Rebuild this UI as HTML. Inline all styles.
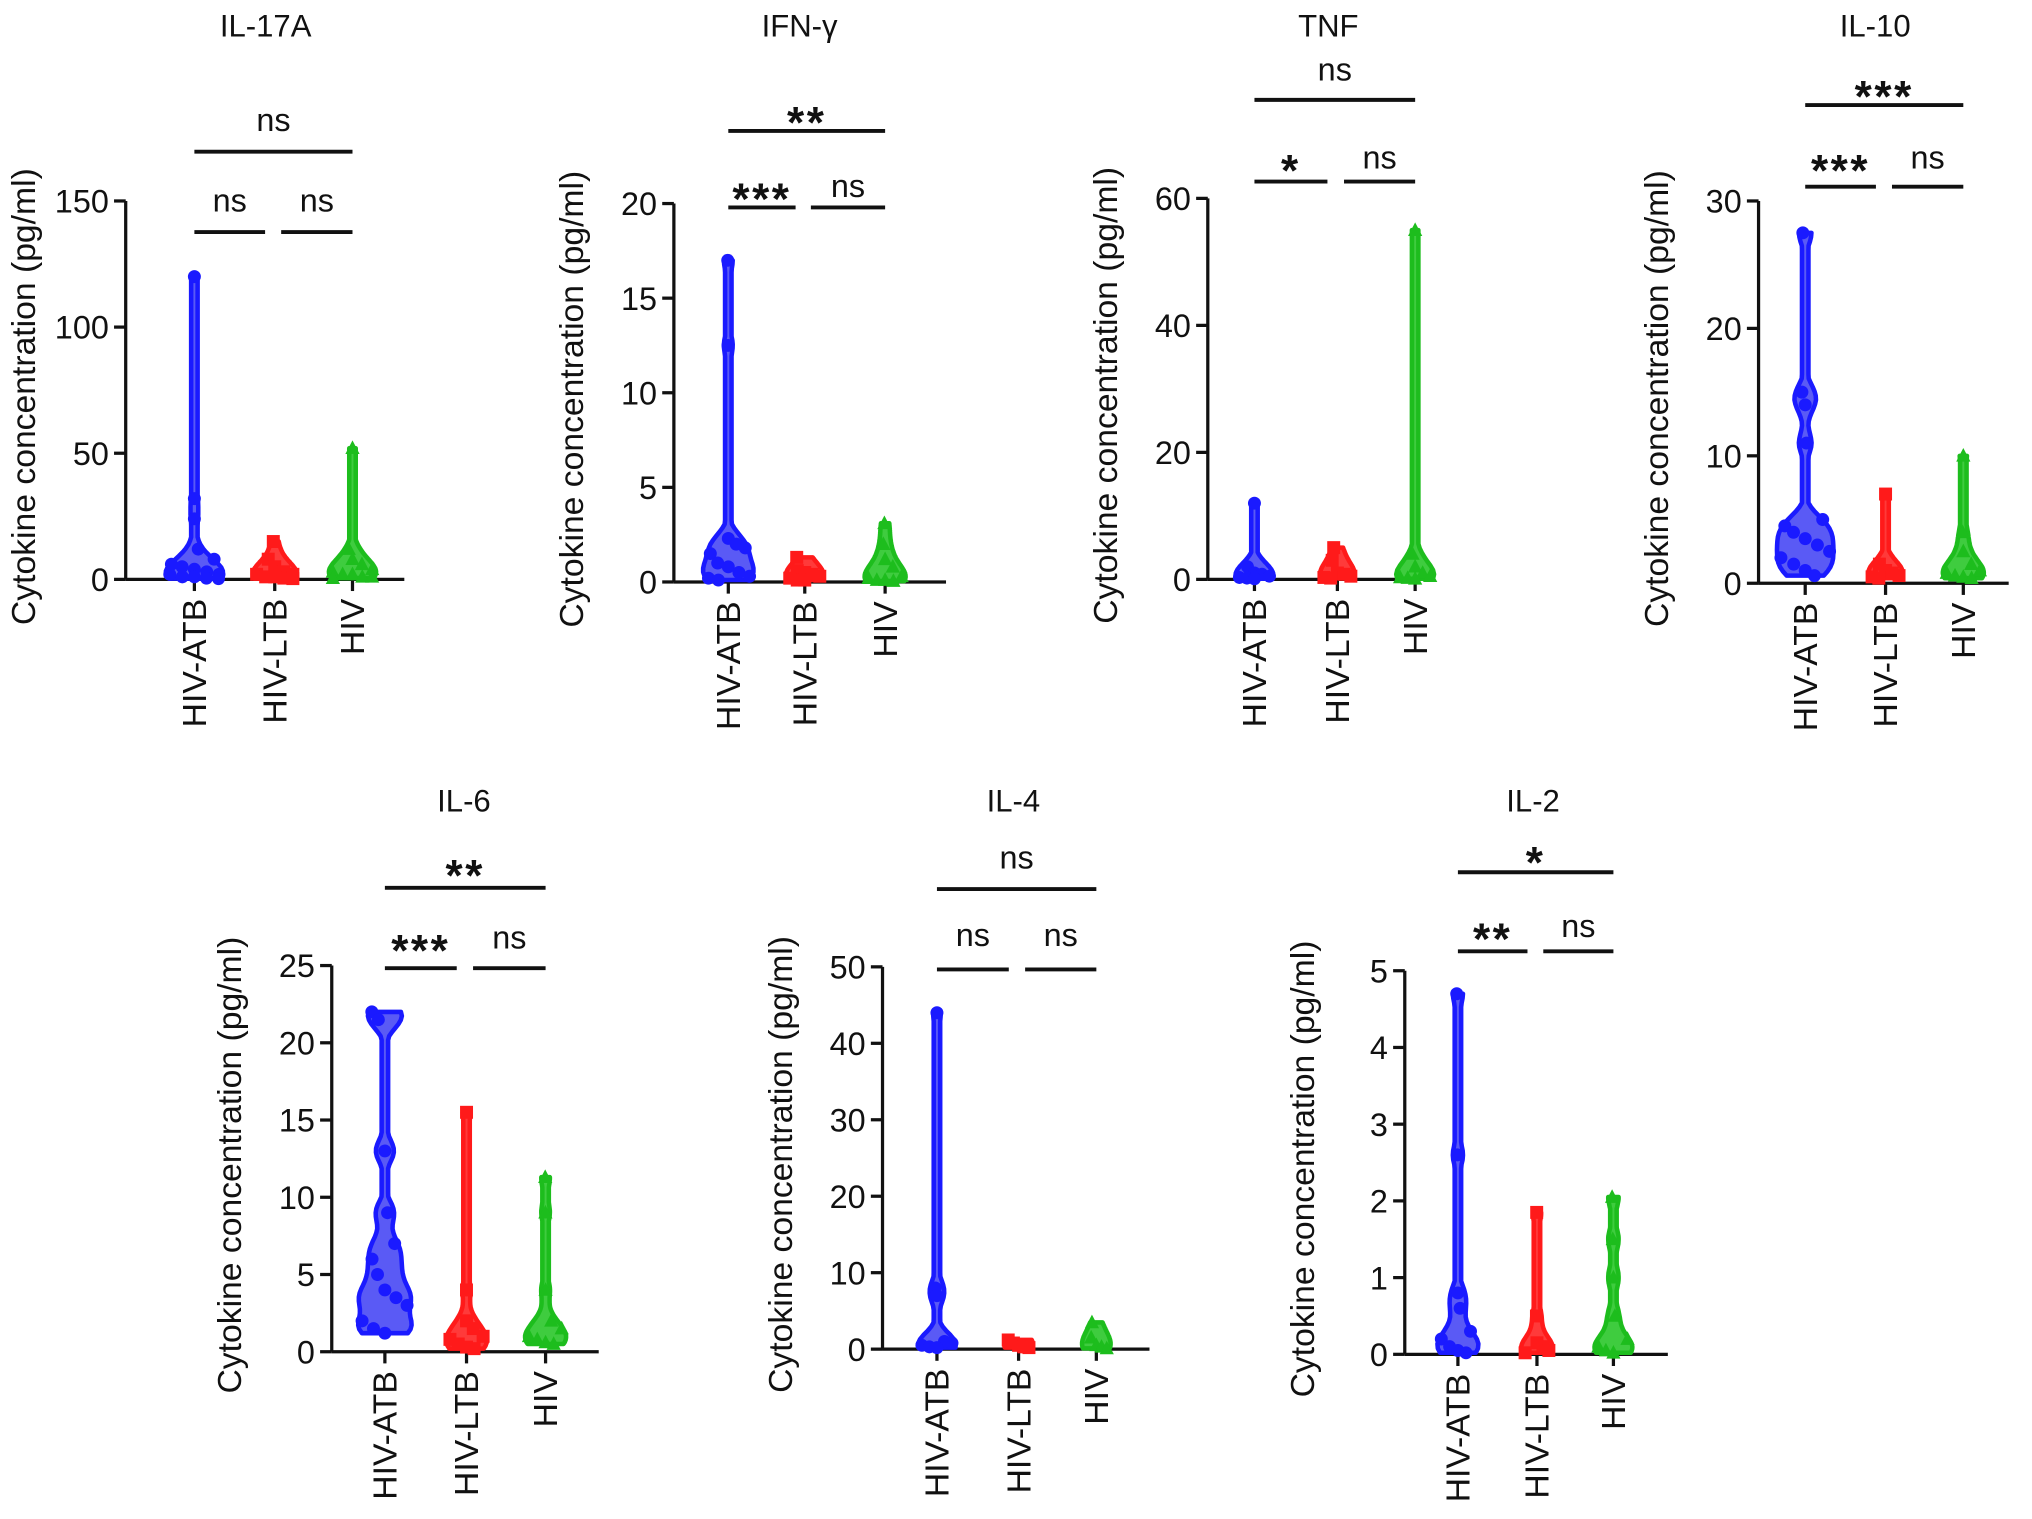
<!DOCTYPE html>
<html><head><meta charset="utf-8"><style>
html,body{margin:0;padding:0;background:#fff}
svg{display:block;font-family:"Liberation Sans",Arial,sans-serif}
</style></head><body>
<svg id="fig" width="2032" height="1519" viewBox="0 0 1568 1172" xmlns="http://www.w3.org/2000/svg"></svg>
<script>
const categories = ["HIV-ATB","HIV-LTB","HIV"];
const titles = ["IL-17A","IFN-γ","TNF","IL-10","IL-6","IL-4","IL-2"];
const il17aATB=[120,32,24,12,8,6,5,4,3,2,2,1,1,0.5,0.3];
const il17aLTB=[15,8,5,3,2,2,1,1,0.5,0.3];
const il17aHIV=[52,12,8,6,4,3,2,2,1,1,0.5];
const ifnATB=[17,12.5,2.3,2,1.8,1.5,1,0.8,0.5,0.3,0.2,0.1];
const ifnLTB=[1.3,0.6,0.5,0.4,0.3,0.2,0.1,0.1];
const ifnHIV=[3.1,2,1.2,0.8,0.3,0.2,0.1,0.1,0.05];
const tnfATB=[12,2,1,0.8,0.5,0.3,0.2,0.1];
const tnfLTB=[5,3,1,0.8,0.5,0.3,0.2];
const tnfHIV=[55,4,2,1,0.5,0.3,0.2,0.1];
const il10ATB=[27.5,15,14,11,5,4.5,4,3.5,3,2.5,2,1.5,1,0.6];
const il10LTB=[7,1.5,1,0.8,0.6,0.5,0.4];
const il10HIV=[10,4,2.5,1.5,1,0.8,0.6,0.5,0.4];
const il6ATB=[22,21.5,13,9,7,6,5,4,3.5,3,2,1.5,1.2];
const il6LTB=[15.5,4,2,1.5,1,0.8,0.5,0.3,0.2];
const il6HIV=[11.3,9,4,2,1.5,1,0.8,0.6,0.5];
const il4ATB=[44,8,7,1,0.8,0.5,0.3,0.2];
const il4LTB=[1.2,0.8,0.5,0.3,0.2];
const il4HIV=[3.5,1.5,0.5,0.3,0.1];
const il2ATB=[4.7,2.6,0.8,0.6,0.3,0.2,0.1,0.05,0.02];
const il2LTB=[1.85,0.5,0.15,0.1,0.05,0.02];
const il2HIV=[2.05,1.5,1,0.5,0.2,0.1,0.05,0.02];
const yTicks=[[0,50,100,150],[0,5,10,15,20],[0,20,40,60],[0,10,20,30],[0,5,10,15,20,25],[0,10,20,30,40,50],[0,1,2,3,4,5]];
const sigTop=["ns","**","ns","***","**","ns","*"];
const sigLeft=["ns","***","*","***","***","ns","**"];
const sigRight=["ns","ns","ns","ns","ns","ns","ns"];
const groups=[[il17aATB,il17aLTB,il17aHIV],[ifnATB,ifnLTB,ifnHIV],[tnfATB,tnfLTB,tnfHIV],[il10ATB,il10LTB,il10HIV],[il6ATB,il6LTB,il6HIV],[il4ATB,il4LTB,il4HIV],[il2ATB,il2LTB,il2HIV]];
const L=[
 {ax:97,top:155,bot:447,xend:312,cx:[150,212,272],tx:205,ty:28,topBar:117,topTxt:104,sBar:179,sTxt:166},
 {ax:520,top:157,bot:449,xend:730,cx:[562,621,683],tx:617,ty:28,topBar:101,topTxt:96,sBar:160,sTxt:155},
 {ax:932,top:153,bot:447,xend:1105,cx:[968,1032,1092],tx:1025,ty:28,topBar:77,topTxt:65,sBar:140,sTxt:133},
 {ax:1357,top:155,bot:450,xend:1550,cx:[1393,1455,1515],tx:1447,ty:28,topBar:81,topTxt:76,sBar:144,sTxt:133},
 {ax:256,top:745,bot:1043,xend:462,cx:[297,360,421],tx:358,ty:626,topBar:685,topTxt:677,sBar:747,sTxt:735},
 {ax:681,top:746,bot:1041,xend:887,cx:[723,786,846],tx:782,ty:626,topBar:686,topTxt:673,sBar:748,sTxt:733},
 {ax:1084,top:749,bot:1045,xend:1287,cx:[1125,1186,1245],tx:1183,ty:626,topBar:673,topTxt:667,sBar:734,sTxt:726}
];
const colors=["#1a1aff","#ff1a1a","#1dbd1d"];
const fills=["#5a5af5","#ff3a3a","#3fcc3f"];
const NS="http://www.w3.org/2000/svg";
const svg=document.getElementById('fig');
function mk(tag,attrs,parent){const e=document.createElementNS(NS,tag);for(const k in attrs)e.setAttribute(k,attrs[k]);(parent||svg).appendChild(e);return e;}
function txt(s,attrs,parent){const e=mk('text',attrs,parent);e.textContent=s;return e;}
groups.forEach((gset,pi)=>{
 const l=L[pi];const ticks=yTicks[pi];const ymax=ticks[ticks.length-1];
 const y=v=>l.bot-(v/ymax)*(l.bot-l.top);
 const g=mk('g',{});
 
 
 const t=txt(titles[pi],{x:l.tx,y:l.ty,'text-anchor':'middle','font-size':24,fill:'#111'},g);
 
 const ya=mk('line',{x1:l.ax,y1:l.top,x2:l.ax,y2:l.bot,stroke:'#111','stroke-width':2.5},g);
 
 const xa=mk('line',{x1:l.ax,y1:l.bot,x2:l.xend,y2:l.bot,stroke:'#111','stroke-width':2.5},g);
 
 ticks.forEach(tv=>{
  mk('line',{x1:l.ax-9,y1:y(tv),x2:l.ax,y2:y(tv),stroke:'#111','stroke-width':2.5},g);
  const tl=txt(String(tv),{x:l.ax-13,y:y(tv)+9,'text-anchor':'end','font-size':25,fill:'#111'},g);
  
 });
 const yt=txt('Cytokine concentration (pg/ml)',{transform:`translate(${l.ax-70},${(l.top+l.bot)/2+5}) rotate(-90)`,'text-anchor':'middle','font-size':26,fill:'#111'},g);
 
 categories.forEach((c,ci)=>{
  const cx=l.cx[ci];
  mk('line',{x1:cx,y1:l.bot,x2:cx,y2:l.bot+9,stroke:'#111','stroke-width':2.5},g);
  const cl=txt(c,{transform:`translate(${cx+9},${l.bot+15}) rotate(-90)`,'text-anchor':'end','font-size':26,fill:'#111'},g);
  
  const data=gset[ci];
  const mn=Math.min(...data),mx=Math.max(...data);
  const bw=(l.bot-l.top)*0.03;
  const steps=80,ds=[];let dmax=0;
  for(let s=0;s<=steps;s++){const v=mn+(mx-mn)*s/steps;const py=y(v);let d=0;data.forEach(dv=>{const z=(y(dv)-py)/bw;d+=Math.exp(-z*z/2);});ds.push([py,d]);if(d>dmax)dmax=d;}
  const maxW=Math.min(22,5+data.length*1.2);
  const right=ds.map(([py,d])=>[cx+Math.max(2.5,maxW*d/dmax),py]);
  const left=ds.slice().reverse().map(([py,d])=>[cx-Math.max(2.5,maxW*d/dmax),py]);
  const vp=mk('path',{d:'M'+right.concat(left).map(p=>p[0].toFixed(1)+','+p[1].toFixed(1)).join('L')+'Z',fill:fills[ci],stroke:colors[ci],'stroke-width':3.5,'stroke-linejoin':'round'},g);
  
  data.forEach((v,i)=>{
   const py=y(v);
   let dd=0;ds.forEach(q=>{if(Math.abs(q[0]-py)<4)dd=Math.max(dd,q[1]);});
   const hw=Math.max(0,maxW*dd/dmax-3);
   const px=cx+((i%5)-2)/2*hw;
   let m;
   if(ci===0)m=mk('circle',{cx:px,cy:py,r:5,fill:colors[ci]},g);
   else if(ci===1)m=mk('rect',{x:px-5,y:py-5,width:10,height:10,fill:colors[ci]},g);
   else m=mk('polygon',{points:`${px},${py-6} ${px-5.5},${py+4.5} ${px+5.5},${py+4.5}`,fill:colors[ci]},g);
   
  });
 });
 const [a,b,c]=l.cx;
 const bars=[[a,c,l.topBar,l.topTxt,sigTop[pi]],[a,a+(b-a)*0.88,l.sBar,l.sTxt,sigLeft[pi]],[a+(b-a)*1.08,c,l.sBar,l.sTxt,sigRight[pi]]];
 bars.forEach(([x1,x2,by,ty,s])=>{
  const bl=mk('line',{x1:x1,y1:by,x2:x2,y2:by,stroke:'#111','stroke-width':3},g);
  
  const isStar=s.indexOf('*')>=0;
  const st=txt(s,{x:(x1+x2)/2,y:isStar?ty+10:ty-3,'text-anchor':'middle','font-size':isStar?34:25,'font-weight':isStar?'bold':'normal',fill:'#111','letter-spacing':isStar?2:0},g);
  
 });
});
</script>
</body></html>
